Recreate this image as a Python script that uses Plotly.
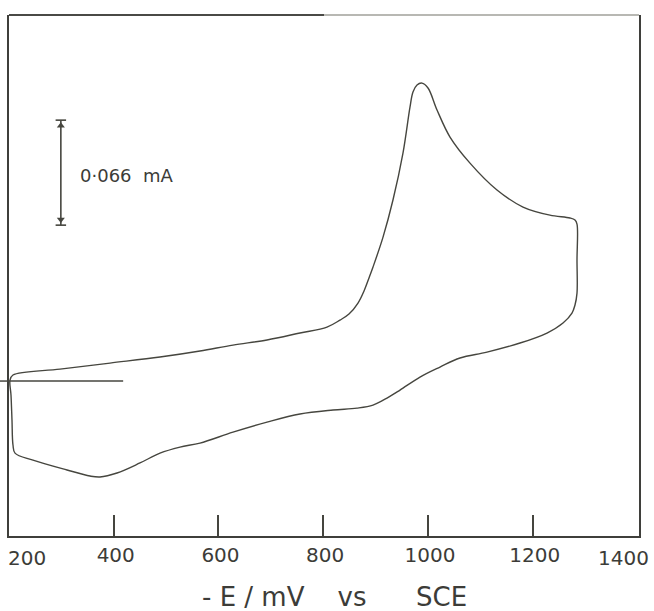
import plotly.graph_objects as go

# ---- data (potential -E in mV, current in microamps) ----
cv_potential_mV = [
    207.6, 297.4, 392.9, 488.3, 564.7, 627.7, 692.7, 755.7, 807.2, 832.0,
    849.2, 866.4, 877.9, 887.4, 895.1, 914.2, 933.2, 952.3, 965.7, 971.4,
    979.1, 988.6, 1000.1, 1017.3, 1042.1, 1080.3, 1131.8, 1181.5, 1233.0, 1271.2,
    1280.8, 1284.6, 1284.6, 1284.6, 1280.8, 1275.0, 1257.9, 1227.3, 1175.8, 1112.7,
    1061.2, 1023.0, 984.8, 946.6, 921.8, 895.1, 864.5, 818.7, 755.7, 692.7,
    627.7, 564.7, 526.5, 488.3, 450.1, 406.2, 373.8, 354.7, 310.8, 245.8,
    211.5, 207.6, 205.7, 203.8, 201.9, 207.6,
]
cv_current_uA = [
    3.8, 7.5, 11.3, 15.1, 18.9, 22.6, 25.8, 30.2, 33.9, 38.3,
    42.1, 49.0, 56.6, 64.8, 71.7, 90.5, 113.8, 143.3, 172.2, 181.7,
    186.1, 187.3, 184.2, 170.4, 153.4, 137.0, 120.1, 109.4, 104.3, 102.5,
    101.2, 98.7, 76.1, 55.3, 47.8, 42.7, 36.5, 30.2, 23.9, 18.2,
    14.5, 8.8, 2.5, -5.7, -10.7, -15.1, -17.0, -18.2, -20.7, -25.8,
    -32.1, -39.0, -41.5, -45.3, -51.5, -57.8, -60.3, -59.7, -55.9, -49.7,
    -45.3, -40.2, -24.5, -8.8, 0.6, 3.8,
]

tick_values = [400, 600, 800, 1000, 1200]
tick_labels = ["400", "600", "800", "1000", "1200"]
edge_tick_values = [200, 1400]
edge_tick_labels = ["200", "1400"]

zero_line_E = [200, 418]
zero_line_I = [0, 0]

scale_bar_E = 299
scale_bar_top_uA = 164
scale_bar_bottom_uA = 98          # 66 uA = 0.066 mA
scale_bar_half_width = 10
scale_label = "0·066\u00a0\u00a0mA"
scale_label_E = 332
scale_label_I = 129

axis_title = "-\u00a0E\u00a0/\u00a0mV\u00a0\u00a0\u00a0\u00a0vs\u00a0\u00a0\u00a0\u00a0\u00a0\u00a0SCE"

x_range = [200, 1403]
y_range = [-97.4, 230.1]

INK = "#46463f"
FONT = "DejaVu Sans"

fig = go.Figure()

fig.add_trace(go.Scatter(
    x=cv_potential_mV, y=cv_current_uA, mode="lines",
    line=dict(color=INK, width=1.4, shape="spline", smoothing=1.0),
    hoverinfo="skip", showlegend=False,
))

fig.add_trace(go.Scatter(
    x=zero_line_E, y=zero_line_I, mode="lines",
    line=dict(color=INK, width=1.5), hoverinfo="skip", showlegend=False,
))

# scale bar with T ends
sb_x = [scale_bar_E - scale_bar_half_width, scale_bar_E + scale_bar_half_width, None,
        scale_bar_E, scale_bar_E, None,
        scale_bar_E - scale_bar_half_width, scale_bar_E + scale_bar_half_width]
sb_y = [scale_bar_top_uA, scale_bar_top_uA, None,
        scale_bar_top_uA, scale_bar_bottom_uA, None,
        scale_bar_bottom_uA, scale_bar_bottom_uA]
fig.add_trace(go.Scatter(
    x=sb_x, y=sb_y, mode="lines", line=dict(color=INK, width=1.6),
    hoverinfo="skip", showlegend=False,
))
fig.add_trace(go.Scatter(
    x=[scale_bar_E, scale_bar_E],
    y=[scale_bar_top_uA - 3.5, scale_bar_bottom_uA + 3.5],
    mode="markers",
    marker=dict(symbol=["triangle-up", "triangle-down"], size=7, color=INK),
    hoverinfo="skip", showlegend=False,
))

annotations = [
    dict(x=scale_label_E, y=scale_label_I, xref="x", yref="y", text=scale_label,
         showarrow=False, xanchor="left", yanchor="middle",
         font=dict(family=FONT, size=18, color="#3c3c38")),
    dict(x=0.516, y=-0.118, xref="paper", yref="paper", text=axis_title,
         showarrow=False, xanchor="center", yanchor="middle",
         font=dict(family=FONT, size=26, color="#3c3c38")),
]
for v, t, shift, anchor in zip(edge_tick_values, edge_tick_labels, [18, 14], ["center", "right"]):
    annotations.append(dict(
        x=v, y=0, xref="x", yref="paper", text=t, showarrow=False,
        xanchor=anchor, yanchor="top", xshift=shift, yshift=-8,
        font=dict(family=FONT, size=20, color="#3c3c38")))

shapes = [
    # top frame (dark on the left, fading to the right as in the scan)
    dict(type="line", xref="paper", yref="paper", x0=0, x1=0.5, y0=1, y1=1,
         line=dict(color="#4a4a46", width=2)),
    dict(type="line", xref="paper", yref="paper", x0=0.5, x1=1, y0=1, y1=1,
         line=dict(color="#a0a09a", width=1.5)),
    # small stub of the zero line left of the frame
    dict(type="line", xref="paper", yref="y", x0=-0.0143, x1=0, y0=0, y1=0,
         line=dict(color=INK, width=1.5)),
]

fig.update_layout(
    width=654, height=611,
    margin=dict(l=9, r=15, t=15, b=75),
    paper_bgcolor="white", plot_bgcolor="white",
    showlegend=False,
    annotations=annotations,
    shapes=shapes,
    xaxis=dict(
        range=x_range, showgrid=False, zeroline=False,
        showline=True, linecolor="#3f3f3b", linewidth=2,
        tickmode="array", tickvals=tick_values, ticktext=tick_labels,
        ticks="inside", ticklen=21, tickwidth=1.5, tickcolor="#45453f",
        tickfont=dict(family=FONT, size=20, color="#3c3c38"),
        ticklabelshift=2,
    ),
    yaxis=dict(
        range=y_range, showgrid=False, zeroline=False,
        showline=True, mirror=True, linecolor="#3f3f3b", linewidth=2,
        showticklabels=False, ticks="",
    ),
)

fig.write_html("out.html")
